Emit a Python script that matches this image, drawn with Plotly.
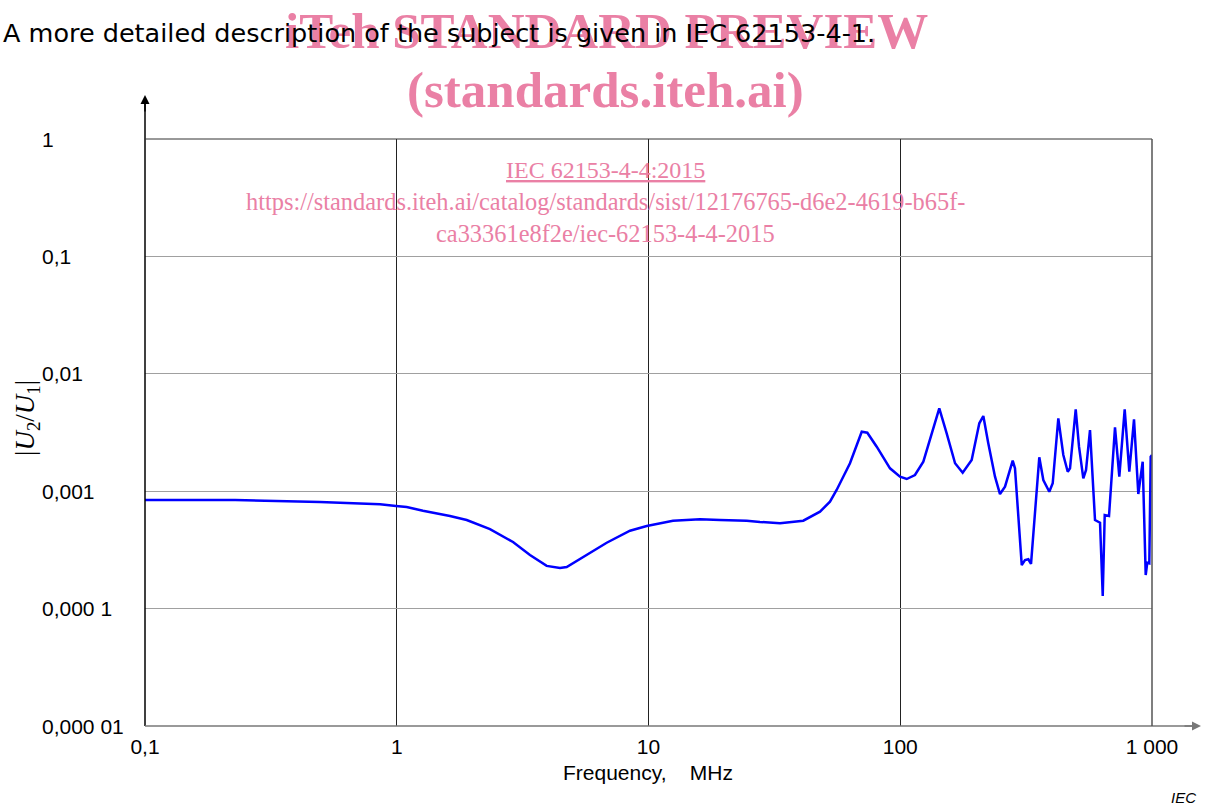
import math
import plotly.graph_objects as go

# Frequency (MHz) and |U2/U1|
freq_mhz = [0.1, 0.228, 0.495, 0.858, 0.993, 1.095, 1.271, 1.627, 1.896, 2.346,
            2.896, 3.382, 3.940, 4.451, 4.732, 5.681, 6.823, 8.443, 9.84, 12.51,
            16.02, 19.23, 24.55, 27.73, 33.30, 41.19, 48.00, 52.58, 55.89, 63.15,
            70.31, 73.99, 80.63, 91.06, 99.77, 106.1, 114.4, 123.5, 135.3, 142.9,
            152.9, 165.1, 177.0, 192.2, 206.1, 213.8, 223.7, 237.9, 249.0, 260.7,
            279.7, 285.6, 303.8, 313.1, 322.6, 330.7, 356.7, 370.1, 390.9, 403.3,
            424.5, 444.4, 462.7, 472.5, 497.7, 513.0, 533.5, 547.0, 567.2, 593.8,
            621.7, 637.2, 648.9, 674.9, 712.9, 741.6, 779.0, 812.5, 848.3, 882.3,
            918.3, 944.1, 957.9, 975.7, 988.1, 1000.0]
ratio = [0.000841, 0.00084, 0.000809, 0.000774, 0.000748, 0.000734, 0.000682, 0.000615, 0.000568, 0.000476,
         0.000369, 0.000286, 0.000231, 0.000222, 0.000226, 0.000286, 0.000364, 0.000461, 0.000505, 0.000561,
         0.000576, 0.000568, 0.000561, 0.000547, 0.000533, 0.000561, 0.000669, 0.000814, 0.001024, 0.001729,
         0.003212, 0.003150, 0.002393, 0.001567, 0.001329, 0.001270, 0.001374, 0.001783, 0.003543, 0.005084,
         0.003113, 0.001729, 0.001437, 0.001844, 0.003788, 0.004369, 0.002559, 0.001329, 0.000946, 0.001092,
         0.001819, 0.001567, 0.000235, 0.000259, 0.000263, 0.000240, 0.001945, 0.001246, 0.000990, 0.001168,
         0.004178, 0.002034, 0.001466, 0.001567, 0.004985, 0.002393, 0.001288, 0.001516, 0.003321, 0.000568,
         0.000539, 0.000128, 0.000627, 0.000615, 0.003502, 0.001329, 0.004985, 0.001466, 0.004096, 0.000946,
         0.001783, 0.000193, 0.000246, 0.000243, 0.001967, 0.002034]

x_tickvals = [0.1, 1, 10, 100, 1000]
x_ticktext = ["0,1", "1", "10", "100", "1 000"]
y_tickvals = [1, 0.1, 0.01, 0.001, 0.0001, 0.00001]
y_ticktext = ["1", "0,1", "0,01", "0,001", "0,000 1", "0,000 01"]

FONT = "Liberation Sans, Arial, sans-serif"
SERIF = "Liberation Serif, Times New Roman, serif"
PINK = "rgb(234,128,165)"

fig = go.Figure()
fig.add_trace(go.Scatter(x=freq_mhz, y=ratio, mode="lines",
                         line=dict(color="#0000ff", width=2.5), showlegend=False))

W, H = 1205, 807
L, R, T, B = 145, 53, 139, 81
pw = W - L - R
ph = H - T - B

def px_x(p):
    return (p - L) / pw

def px_y(p):
    return (H - B - p) / ph

def note(x, y, text, font, xanchor="center", **kw):
    return dict(x=px_x(x), y=px_y(y), xref="paper", yref="paper", text=text,
                showarrow=False, xanchor=xanchor, yanchor="middle", font=font, **kw)

# watermark first so black text draws on top
annotations = [
    note(606, 31, "<b>iTeh STANDARD PREVIEW</b>", dict(family=SERIF, size=51, color=PINK)),
    note(605, 90, "<b>(standards.iteh.ai)</b>", dict(family=SERIF, size=51, color=PINK)),
    note(605, 170, "<u>IEC 62153-4-4:2015</u>", dict(family=SERIF, size=24, color=PINK)),
    note(605, 201, "https://standards.iteh.ai/catalog/standards/sist/12176765-d6e2-4619-b65f-",
         dict(family=SERIF, size=24.4, color=PINK)),
    note(605, 233, "ca33361e8f2e/iec-62153-4-4-2015", dict(family=SERIF, size=24.4, color=PINK)),
]

for v, t in zip(y_tickvals, y_ticktext):
    annotations.append(dict(x=px_x(40), xref="paper", y=math.log10(v), yref="y", text=t,
                            showarrow=False, xanchor="left", yanchor="middle",
                            font=dict(family=FONT, size=21, color="black")))

annotations += [
    note(648, 772, "Frequency,    MHz", dict(family=FONT, size=21, color="black")),
    note(8, 418, "|<i>U</i><sub>2</sub>/<i>U</i><sub>1</sub>|",
         dict(family=SERIF, size=27, color="black"), xanchor="left", textangle=-90),
    note(1198, 797, "<i>IEC</i>", dict(family=FONT, size=15, color="black"), xanchor="right"),
    note(1, 33, "A more detailed description of the subject is given in IEC 62153-4-1.",
         dict(family="DejaVu Sans, sans-serif", size=25.5, color="black"), xanchor="left"),
    # axis arrows
    dict(x=0, y=px_y(95), xref="paper", yref="paper", ax=0, ay=18, text="", showarrow=True,
         arrowhead=2, arrowsize=1.2, arrowwidth=1.5, arrowcolor="black"),
    dict(x=px_x(1201), y=0, xref="paper", yref="paper", ax=-18, ay=0, text="", showarrow=True,
         arrowhead=2, arrowsize=1.2, arrowwidth=1.5, arrowcolor="#777777"),
]

shapes = [
    dict(type="line", xref="paper", yref="paper", x0=0, x1=0, y0=0, y1=px_y(100),
         line=dict(color="black", width=1.5)),
    dict(type="line", xref="paper", yref="paper", x0=0, x1=px_x(1195), y0=0, y1=0,
         line=dict(color="#777777", width=1.5)),
    dict(type="line", xref="paper", yref="paper", x0=0, x1=1, y0=1, y1=1,
         line=dict(color="#333333", width=1)),
    dict(type="line", xref="paper", yref="paper", x0=1, x1=1, y0=0, y1=1,
         line=dict(color="#555555", width=1.5)),
]

fig.update_layout(
    width=W, height=H,
    margin=dict(l=L, r=R, t=T, b=B, pad=0),
    paper_bgcolor="white", plot_bgcolor="white",
    font=dict(family=FONT, size=21, color="black"),
    xaxis=dict(type="log", range=[-1, 3], tickvals=x_tickvals, ticktext=x_ticktext,
               showgrid=True, gridcolor="#222222", gridwidth=1, ticks="",
               ticklabelstandoff=6,
               showline=False, zeroline=False, tickfont=dict(family=FONT, size=21, color="black")),
    yaxis=dict(type="log", range=[-5, 0], tickvals=y_tickvals, showticklabels=False,
               showgrid=True, gridcolor="#a0a0a0", gridwidth=1.2, ticks="",
               showline=False, zeroline=False),
    annotations=annotations,
    shapes=shapes,
    showlegend=False,
)

fig.write_html("out.html", config={"displayModeBar": False},
               post_script="document.body.style.margin='0px';document.body.style.padding='0px';")
